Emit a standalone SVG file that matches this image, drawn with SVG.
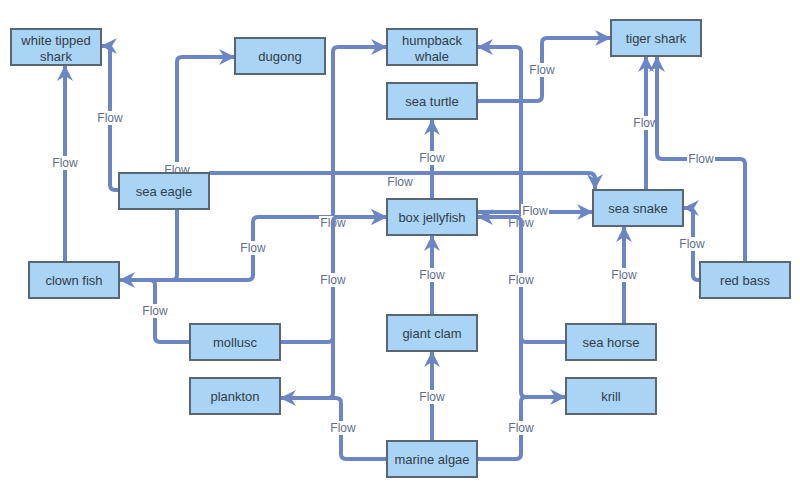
<svg xmlns="http://www.w3.org/2000/svg" width="800" height="492" viewBox="0 0 800 492">
<style>
.node rect{fill:#a9d4f5;stroke:#5a6670;stroke-width:2}
.node text{font-family:"Liberation Sans",Arial,sans-serif;font-size:13px;fill:#333c48;text-anchor:middle}
.edge{fill:none;stroke:#6b86c2;stroke-width:4;marker-end:url(#arr)}
.lbl rect{fill:#ffffff}
.lbl text{font-family:"Liberation Sans",Arial,sans-serif;font-size:12px;fill:#5f6f8c;text-anchor:middle}
</style>
<defs>
<marker id="arr" markerUnits="userSpaceOnUse" markerWidth="18" markerHeight="16" refX="16" refY="8" orient="auto">
<path d="M0,0 L16,8 L0,16 L5,8 z" fill="#6b86c2"/>
</marker>
</defs>
<rect width="800" height="492" fill="#ffffff"/>
<g id="connectors">
<path class="edge" d="M65,262 V65"/>
<g class="lbl"><rect x="51" y="156" width="28" height="14"/><text x="65" y="167">Flow</text></g>
<path class="edge" d="M119,190 H115 Q110,190 110,185 V51 Q110,46 105,46 H101"/>
<g class="lbl"><rect x="96" y="111" width="28" height="14"/><text x="110" y="122">Flow</text></g>
<path class="edge" d="M119,280 H172 Q177,280 177,275 V62 Q177,57 182,57 H235"/>
<g class="lbl"><rect x="163" y="162" width="28" height="14"/><text x="177" y="174">Flow</text></g>
<path class="edge" d="M209,173 H589 Q595,173 595,179 V190"/>
<g class="lbl"><rect x="386" y="175" width="28" height="14"/><text x="400" y="186">Flow</text></g>
<path class="edge" d="M155,280 H248 Q253,280 253,275 V222 Q253,217 258,217 H387"/>
<g class="lbl"><rect x="239" y="241" width="28" height="14"/><text x="253" y="252">Flow</text></g>
<path class="edge" d="M190,342 H160 Q155,342 155,337 V285 Q155,280 150,280 H119"/>
<g class="lbl"><rect x="141" y="304" width="28" height="14"/><text x="155" y="315">Flow</text></g>
<path class="edge" d="M280,398 H328 Q333,398 333,393 V52 Q333,47 338,47 H387"/>
<g class="lbl"><rect x="319" y="216" width="28" height="14"/><text x="333" y="227">Flow</text></g>
<path class="edge" d="M280,342 H328 Q333,342 333,337 V222 Q333,217 338,217 H387"/>
<g class="lbl"><rect x="319" y="273" width="28" height="14"/><text x="333" y="284">Flow</text></g>
<path class="edge" d="M387,459 H346 Q341,459 341,454 V403 Q341,398 336,398 H280"/>
<g class="lbl"><rect x="329" y="421" width="28" height="14"/><text x="343" y="432">Flow</text></g>
<path class="edge" d="M432,441 V351"/>
<g class="lbl"><rect x="418" y="390" width="28" height="14"/><text x="432" y="401">Flow</text></g>
<path class="edge" d="M432,315 V235"/>
<g class="lbl"><rect x="418" y="268" width="28" height="14"/><text x="432" y="279">Flow</text></g>
<path class="edge" d="M432,199 V119"/>
<g class="lbl"><rect x="418" y="151" width="28" height="14"/><text x="432" y="162">Flow</text></g>
<path class="edge" d="M477,101 H537 Q542,101 542,96 V43 Q542,38 547,38 H611"/>
<g class="lbl"><rect x="528" y="63" width="28" height="14"/><text x="542" y="74">Flow</text></g>
<path class="edge" d="M566,397 H526 Q521,397 521,392 V52 Q521,47 516,47 H477"/>
<g class="lbl"><rect x="507" y="216" width="28" height="14"/><text x="521" y="227">Flow</text></g>
<path class="edge" d="M566,342 H526 Q521,342 521,337 V222 Q521,217 516,217 H477"/>
<g class="lbl"><rect x="507" y="273" width="28" height="14"/><text x="521" y="284">Flow</text></g>
<path class="edge" d="M477,459 H516 Q521,459 521,454 V402 Q521,397 526,397 H566"/>
<g class="lbl"><rect x="507" y="421" width="28" height="14"/><text x="521" y="432">Flow</text></g>
<path class="edge" d="M477,212 H593"/>
<g class="lbl"><rect x="521" y="204" width="28" height="14"/><text x="535" y="215">Flow</text></g>
<path class="edge" d="M646,190 V56"/>
<g class="lbl"><rect x="632" y="116" width="28" height="14"/><text x="646" y="127">Flow</text></g>
<path class="edge" d="M745,262 V164 Q745,159 740,159 H662 Q657,159 657,154 V56"/>
<g class="lbl"><rect x="687" y="152" width="28" height="14"/><text x="701" y="163">Flow</text></g>
<path class="edge" d="M700,280 H698 Q693,280 693,275 V213 Q693,208 688,208 H683"/>
<g class="lbl"><rect x="678" y="237" width="28" height="14"/><text x="692" y="248">Flow</text></g>
<path class="edge" d="M624,324 V226"/>
<g class="lbl"><rect x="610" y="268" width="28" height="14"/><text x="624" y="279">Flow</text></g>
</g>
<g id="white-tipped-shark" class="node"><rect x="11" y="29" width="90" height="36"/><text x="56" y="45">white tipped</text><text x="56" y="61">shark</text></g>
<g id="dugong" class="node"><rect x="235" y="38" width="90" height="36"/><text x="280" y="61">dugong</text></g>
<g id="humpback-whale" class="node"><rect x="387" y="29" width="90" height="36"/><text x="432" y="45">humpback</text><text x="432" y="61">whale</text></g>
<g id="sea-turtle" class="node"><rect x="387" y="83" width="90" height="36"/><text x="432" y="106">sea turtle</text></g>
<g id="tiger-shark" class="node"><rect x="611" y="20" width="90" height="36"/><text x="656" y="43">tiger shark</text></g>
<g id="sea-eagle" class="node"><rect x="119" y="173" width="90" height="36"/><text x="164" y="196">sea eagle</text></g>
<g id="sea-snake" class="node"><rect x="593" y="190" width="90" height="36"/><text x="638" y="213">sea snake</text></g>
<g id="box-jellyfish" class="node"><rect x="387" y="199" width="90" height="36"/><text x="432" y="222">box jellyfish</text></g>
<g id="clown-fish" class="node"><rect x="29" y="262" width="90" height="36"/><text x="74" y="285">clown fish</text></g>
<g id="red-bass" class="node"><rect x="700" y="262" width="90" height="36"/><text x="745" y="285">red bass</text></g>
<g id="mollusc" class="node"><rect x="190" y="324" width="90" height="36"/><text x="235" y="347">mollusc</text></g>
<g id="giant-clam" class="node"><rect x="387" y="315" width="90" height="36"/><text x="432" y="338">giant clam</text></g>
<g id="sea-horse" class="node"><rect x="566" y="324" width="90" height="36"/><text x="611" y="347">sea horse</text></g>
<g id="plankton" class="node"><rect x="190" y="378" width="90" height="36"/><text x="235" y="401">plankton</text></g>
<g id="krill" class="node"><rect x="566" y="378" width="90" height="36"/><text x="611" y="401">krill</text></g>
<g id="marine-algae" class="node"><rect x="387" y="441" width="90" height="36"/><text x="432" y="464">marine algae</text></g>
</svg>
